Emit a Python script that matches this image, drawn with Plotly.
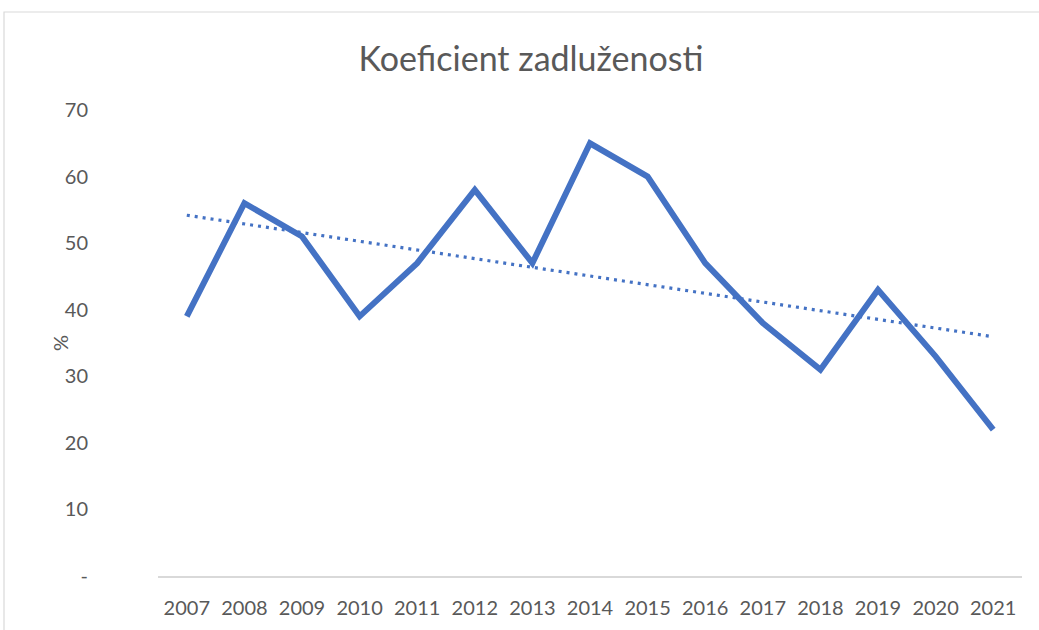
import numpy as np
import plotly.graph_objects as go

years = ["2007", "2008", "2009", "2010", "2011", "2012", "2013", "2014",
         "2015", "2016", "2017", "2018", "2019", "2020", "2021"]
values = [39, 56, 51, 39, 47, 58, 47, 65, 60, 47, 38, 31, 43, 33, 22]
ytick_vals = [0, 10, 20, 30, 40, 50, 60, 70]
ytick_text = ["-", "10", "20", "30", "40", "50", "60", "70"]

# linear trendline (as Excel computes it)
idx = np.arange(len(values))
slope, intercept = np.polyfit(idx, values, 1)
trend = slope * idx + intercept

BLUE = "#4472C4"
GRAY = "#595959"
FONT = "Lato"

fig = go.Figure()
fig.add_trace(go.Scatter(x=years, y=values, mode="lines",
                         line=dict(color=BLUE, width=6), showlegend=False))
fig.add_trace(go.Scatter(x=years, y=trend, mode="lines",
                         line=dict(color=BLUE, width=3.2, dash="3px,5px"),
                         showlegend=False))

L, R, T, B = 158, 17, 110, 54
W, H = 1039, 630
pw, ph = W - L - R, H - T - B

def px(x):
    return (x - L) / pw

def py(y):
    return (H - B - y) / ph

fig.update_layout(
    width=W, height=H,
    margin=dict(l=L, r=R, t=T, b=B, autoexpand=False),
    paper_bgcolor="white", plot_bgcolor="white",
    font=dict(family=FONT, color=GRAY, size=20),
    title=dict(text="Koeficient zadluženosti", x=531 / W, xref="container",
               xanchor="center", y=1 - 59 / H, yref="container", yanchor="middle",
               font=dict(family=FONT, size=34, color=GRAY)),
    xaxis=dict(type="category", range=[-0.5, 14.5], showgrid=False,
               showline=True, linecolor="#D9D9D9", linewidth=1.5,
               ticks="", ticklabelstandoff=13,
               tickfont=dict(family=FONT, size=20, color=GRAY)),
    yaxis=dict(range=[0, 70], tickvals=ytick_vals, ticktext=ytick_text,
               showgrid=False, zeroline=False, showline=False, ticks="",
               ticklabelstandoff=69,
               tickfont=dict(family=FONT, size=20, color=GRAY)),
    annotations=[dict(text="%", x=px(60), y=py(343), xref="paper", yref="paper",
                      xanchor="center", yanchor="middle",
                      showarrow=False, textangle=-90,
                      font=dict(family=FONT, size=20, color=GRAY))],
    shapes=[dict(type="rect", xref="paper", yref="paper",
                 x0=px(4), x1=px(1060), y0=py(650), y1=py(12),
                 line=dict(color="#D9D9D9", width=1.2), fillcolor="rgba(0,0,0,0)",
                 layer="below")],
)

fig.write_html("out.html", config={"displayModeBar": False},
               post_script="document.body.style.margin='0';")
